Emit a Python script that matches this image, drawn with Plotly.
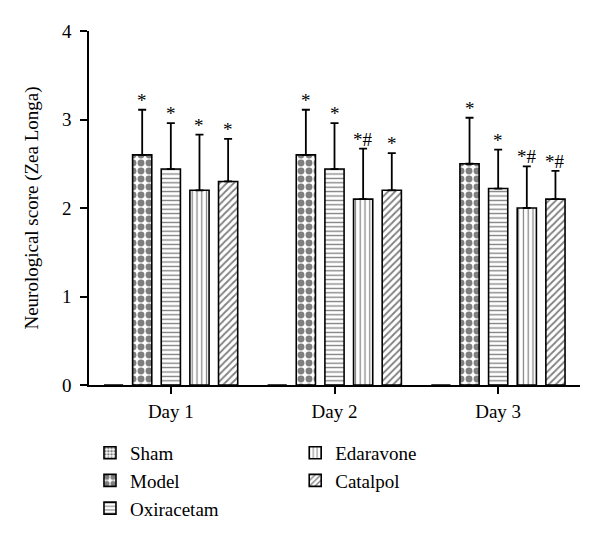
import plotly.graph_objects as go

days = ["Day 1", "Day 2", "Day 3"]
groups = ["Sham", "Model", "Oxiracetam", "Edaravone", "Catalpol"]

sham = [0, 0, 0]
model = [2.6, 2.6, 2.5]
oxiracetam = [2.44, 2.44, 2.22]
edaravone = [2.2, 2.1, 2.0]
catalpol = [2.3, 2.2, 2.1]

model_err = [0.51, 0.51, 0.52]
oxiracetam_err = [0.52, 0.52, 0.44]
edaravone_err = [0.63, 0.57, 0.47]
catalpol_err = [0.48, 0.42, 0.32]

model_sig = ["*", "*", "*"]
oxiracetam_sig = ["*", "*", "*"]
edaravone_sig = ["*", "*#", "*#"]
catalpol_sig = ["*", "*", "*#"]

FONT = "Liberation Serif"
FS = 19
# the page body has an 8px margin, so the figure is drawn 8px smaller
W, H = 592, 531
M = dict(l=81, r=20, t=23, b=154, autoexpand=False)
BARGAP = 0.125
BARGROUPGAP = 0.33

series = [
    ("Sham", sham, None, None, dict(shape=".", size=4, solidity=0.5), "legend"),
    ("Model", model, model_err, model_sig, dict(shape=".", size=8, solidity=0.58), "legend"),
    ("Oxiracetam", oxiracetam, oxiracetam_err, oxiracetam_sig, dict(shape="-", size=4.4, solidity=0.3), "legend"),
    ("Edaravone", edaravone, edaravone_err, edaravone_sig, dict(shape="|", size=4.8, solidity=0.25), "legend2"),
    ("Catalpol", catalpol, catalpol_err, catalpol_sig, dict(shape="/", size=5, solidity=0.35), "legend2"),
]

fig = go.Figure()
for name, vals, err, sig, pat, leg in series:
    fig.add_trace(go.Bar(
        x=days, y=vals, name=name, legend=leg,
        marker=dict(color="white", line=dict(color="black", width=1.6),
                    pattern=dict(fgcolor="black", bgcolor="white", fillmode="overlay", **pat)),
        error_y=None if err is None else dict(
            type="data", array=err, arrayminus=[0] * len(err), symmetric=False,
            color="black", thickness=1.8, width=4),
    ))

# significance marks above the error bars
plot_w = W - M["l"] - M["r"]
slot = plot_w / len(days) * (1 - BARGAP) / len(groups)
for i, (name, vals, err, sig, pat, leg) in enumerate(series):
    if sig is None:
        continue
    for d, v, e, s in zip(days, vals, err, sig):
        fig.add_annotation(
            x=d, y=v + e, text=s, showarrow=False,
            xshift=(i - 2) * slot, yanchor="bottom", yshift=-3,
            font=dict(family=FONT, size=FS, color="black"),
        )

axis = dict(showline=True, linecolor="black", linewidth=1.5, ticks="outside",
            ticklen=7, tickwidth=1.5, tickcolor="black", showgrid=False,
            zeroline=False, tickfont=dict(family=FONT, size=FS, color="black"))

legend_font = dict(family=FONT, size=FS, color="black")

fig.update_layout(
    template="none",
    width=W, height=H, margin=M,
    paper_bgcolor="white", plot_bgcolor="white",
    barmode="group", bargap=BARGAP, bargroupgap=BARGROUPGAP,
    font=dict(family=FONT, size=FS, color="black"),
    xaxis=dict(**axis, range=[-0.5, 2.5], ticklabelstandoff=1),
    yaxis=dict(**axis, range=[0, 4], dtick=1, ticklabelstandoff=5,
               title=dict(text="Neurological score (Zea Longa)", standoff=18,
                          font=dict(family=FONT, size=FS, color="black"))),
    legend=dict(x=0.002, y=-0.138, xanchor="left", yanchor="top",
                orientation="v", font=legend_font, bgcolor="rgba(0,0,0,0)",
                traceorder="normal", itemwidth=30),
    legend2=dict(x=0.42, y=-0.138, xanchor="left", yanchor="top",
                 orientation="v", font=legend_font, bgcolor="rgba(0,0,0,0)",
                 traceorder="normal", itemwidth=30),
)

fig.write_html("out.html")
